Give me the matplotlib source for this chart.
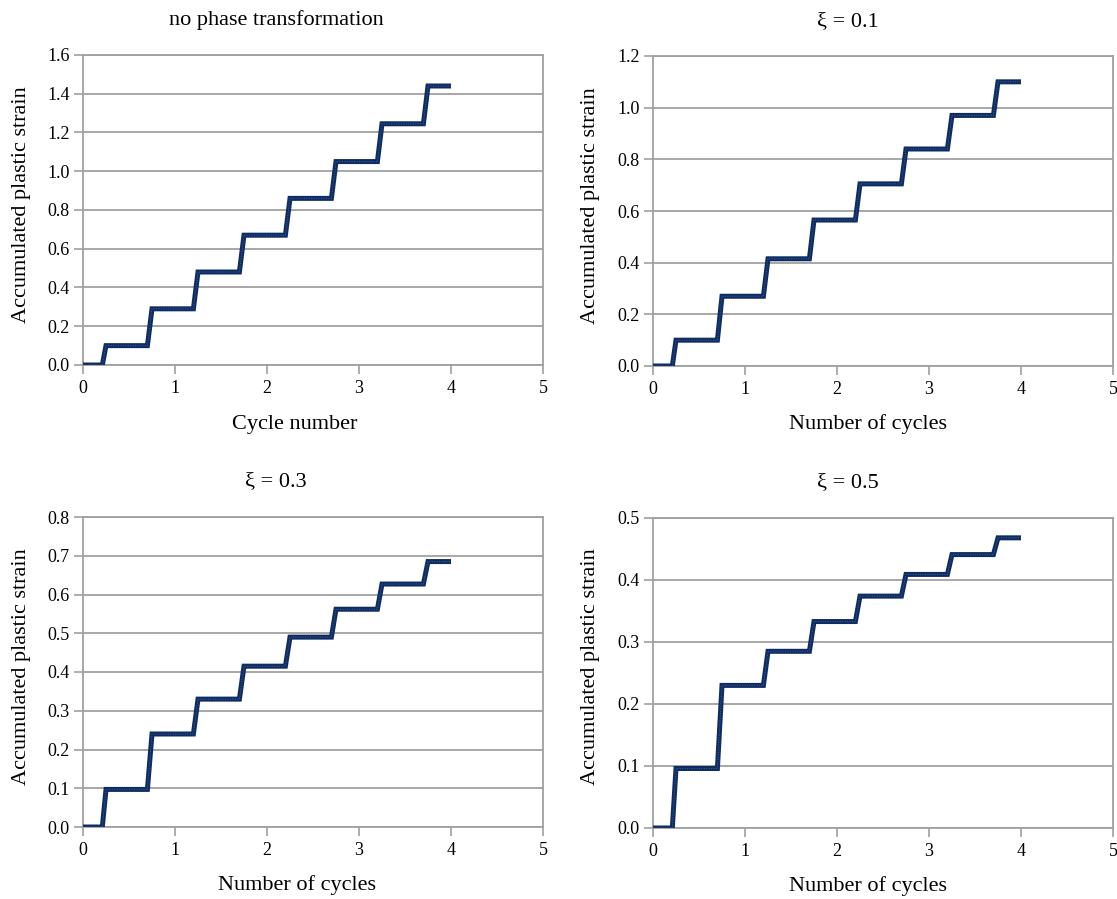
import matplotlib
matplotlib.use("Agg")
import matplotlib.pyplot as plt

# Cycle times where each loading ramp begins and ends
ramp_start = [0.21, 0.70, 1.20, 1.70, 2.20, 2.70, 3.20, 3.70]
ramp_end = [0.25, 0.75, 1.25, 1.75, 2.25, 2.75, 3.25, 3.75]
t_end = 4.0

# Accumulated plastic strain plateaus for each case
strain_none = [0.0, 0.10, 0.29, 0.48, 0.67, 0.86, 1.05, 1.245, 1.44]
strain_xi01 = [0.0, 0.10, 0.27, 0.415, 0.565, 0.705, 0.84, 0.97, 1.10]
strain_xi03 = [0.0, 0.097, 0.24, 0.33, 0.415, 0.49, 0.562, 0.627, 0.685]
strain_xi05 = [0.0, 0.096, 0.23, 0.285, 0.333, 0.374, 0.409, 0.441, 0.468]

titles = ["no phase transformation", "ξ = 0.1", "ξ = 0.3", "ξ = 0.5"]
xlabels = ["Cycle number", "Number of cycles", "Number of cycles", "Number of cycles"]
ylabel = "Accumulated plastic strain"
y_limits = [1.6, 1.2, 0.8, 0.5]
y_steps = [0.2, 0.2, 0.1, 0.1]
x_ticks = [0, 1, 2, 3, 4, 5]

W, H = 1117, 899
plt.rcParams["font.family"] = ["Liberation Serif", "DejaVu Serif"]

fig = plt.figure(figsize=(W / 100, H / 100), dpi=100)

# Panel geometry in pixels: axes left/bottom/top, and centres of title, xlabel, ylabel
panels = [
    dict(left=83, bottom=365, top=55, title=(276, 20), xl=(295, 424), yl=(22, 205)),
    dict(left=653, bottom=366, top=56, title=(848, 22), xl=(868, 424), yl=(591, 206)),
    dict(left=83, bottom=827, top=517, title=(276, 482), xl=(297, 885), yl=(22, 667)),
    dict(left=653, bottom=828, top=518, title=(848, 483), xl=(868, 886), yl=(591, 667)),
]
series = [strain_none, strain_xi01, strain_xi03, strain_xi05]


def step_path(levels):
    xs, ys = [0.0], [levels[0]]
    for i, (s, e) in enumerate(zip(ramp_start, ramp_end)):
        xs += [s, e]
        ys += [levels[i], levels[i + 1]]
    xs.append(t_end)
    ys.append(levels[-1])
    return xs, ys


grid_color = "#a0a0a0"
for k, p in enumerate(panels):
    ax = fig.add_axes([p["left"] / W, 1 - p["bottom"] / H,
                       460 / W, (p["bottom"] - p["top"]) / H])
    xs, ys = step_path(series[k])
    ax.plot(xs, ys, color="#0f2c62", lw=3.6, solid_joinstyle="miter",
            solid_capstyle="butt", zorder=3)
    ax.plot(xs, ys, color="#3f62a0", lw=0.7, ls=(0, (1, 1.5)), zorder=4)

    ymax = y_limits[k]
    n = int(round(ymax / y_steps[k]))
    yt = [round(i * y_steps[k], 2) for i in range(n + 1)]
    ax.set_xlim(0, 5)
    ax.set_ylim(0, ymax)
    ax.set_xticks(x_ticks)
    ax.set_yticks(yt)
    ax.set_yticklabels([f"{v:.1f}" for v in yt])
    ax.yaxis.grid(True, color=grid_color, lw=1.3)
    ax.set_axisbelow(True)
    for sp in ax.spines.values():
        sp.set_color(grid_color)
        sp.set_linewidth(1.3)
    ax.tick_params(direction="out", length=6.5, width=1.2, color=grid_color,
                   labelsize=13, labelcolor="black")
    ax.tick_params(axis="y", pad=3)
    ax.tick_params(axis="x", pad=4)

    fig.text(p["title"][0] / W, 1 - p["title"][1] / H, titles[k],
             ha="center", va="center", fontsize=16)
    fig.text(p["xl"][0] / W, 1 - p["xl"][1] / H, xlabels[k],
             ha="center", va="center", fontsize=16)
    fig.text(p["yl"][0] / W, 1 - p["yl"][1] / H, ylabel,
             ha="center", va="center", rotation=90, fontsize=16)

fig.savefig("out.png", dpi=100, facecolor="white")
